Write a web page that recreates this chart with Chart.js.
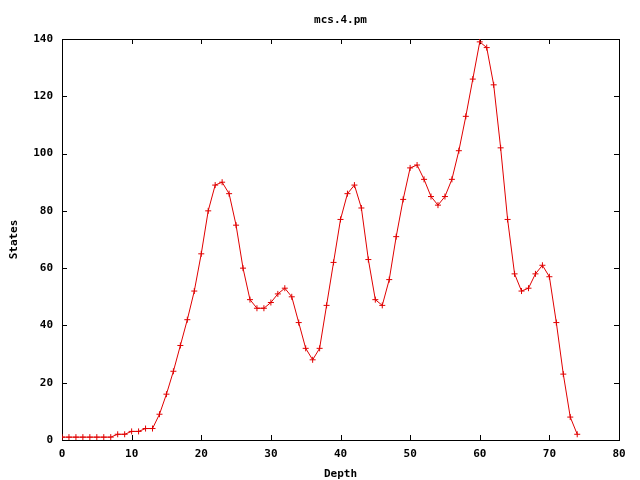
<!DOCTYPE html>
<html>
<head>
<meta charset="utf-8">
<script src="https://cdn.jsdelivr.net/npm/chart.js@4.4.1/dist/chart.umd.min.js"></script>
<style>
  html, body { margin: 0; padding: 0; background: #fff; }
  #wrap { width: 640px; height: 480px; }
</style>
</head>
<body>
<div id="wrap"><canvas id="plot" width="640" height="480"></canvas></div>
<script>
// mcs.4.pm - states per depth
var plotTitle = 'mcs.4.pm';
var depths = [
   0,  1,  2,  3,  4,  5,  6,  7,  8,  9,
  10, 11, 12, 13, 14, 15, 16, 17, 18, 19,
  20, 21, 22, 23, 24, 25, 26, 27, 28, 29,
  30, 31, 32, 33, 34, 35, 36, 37, 38, 39,
  40, 41, 42, 43, 44, 45, 46, 47, 48, 49,
  50, 51, 52, 53, 54, 55, 56, 57, 58, 59,
  60, 61, 62, 63, 64, 65, 66, 67, 68, 69,
  70, 71, 72, 73, 74
];
var states = [
   1,   1,   1,   1,   1,   1,   1,   1,   2,   2,
   3,   3,   4,   4,   9,  16,  24,  33,  42,  52,
  65,  80,  89,  90,  86,  75,  60,  49,  46,  46,
  48,  51,  53,  50,  41,  32,  28,  32,  47,  62,
  77,  86,  89,  81,  63,  49,  47,  56,  71,  84,
  95,  96,  91,  85,  82,  85,  91, 101, 113, 126,
 139, 137, 124, 102,  77,  58,  52,  53,  58,  61,
  57,  41,  23,   8,   2
];
var xTicks = [0, 10, 20, 30, 40, 50, 60, 70, 80];
var yTicks = [0, 20, 40, 60, 80, 100, 120, 140];

var monoFont = { family: '"DejaVu Sans Mono", monospace', size: 11, weight: 'bold' };
var labelFont = { family: '"DejaVu Sans Mono", monospace', size: 11, weight: 'bold', lineHeight: 1 };

// gnuplot style frame with inward ticks on all four sides, title centred on the plot
var framePlugin = {
  id: 'frame',
  beforeDatasetsDraw: function (chart) {
    var ctx = chart.ctx;
    var a = chart.chartArea;
    var xs = chart.scales.x, ys = chart.scales.y;
    var len = 5;
    ctx.save();
    ctx.strokeStyle = '#000';
    ctx.lineWidth = 1;
    ctx.beginPath();
    xTicks.forEach(function (v) {
      var px = Math.round(xs.getPixelForValue(v)) + 0.5;
      ctx.moveTo(px, a.bottom); ctx.lineTo(px, a.bottom - len);
      ctx.moveTo(px, a.top); ctx.lineTo(px, a.top + len);
    });
    yTicks.forEach(function (v) {
      var py = Math.round(ys.getPixelForValue(v)) + 0.5;
      ctx.moveTo(a.left, py); ctx.lineTo(a.left + len, py);
      ctx.moveTo(a.right, py); ctx.lineTo(a.right - len, py);
    });
    ctx.stroke();
    ctx.strokeRect(Math.round(a.left) + 0.5, Math.round(a.top) + 0.5,
                   Math.round(a.right - a.left), Math.round(a.bottom - a.top));

    ctx.fillStyle = '#000';
    ctx.font = 'bold 11px "DejaVu Sans Mono", monospace';
    ctx.textAlign = 'center';
    ctx.textBaseline = 'middle';
    ctx.fillText(plotTitle, (a.left + a.right) / 2, 20);
    ctx.restore();
  }
};

var ctx = document.getElementById('plot').getContext('2d');
var chart = new Chart(ctx, {
  type: 'line',
  data: {
    datasets: [{
      label: plotTitle,
      data: depths.map(function (d, i) { return { x: d, y: states[i] }; }),
      borderColor: '#e00000',
      backgroundColor: '#e00000',
      borderWidth: 1,
      pointStyle: 'cross',
      pointRadius: 3,
      pointBorderWidth: 1,
      pointHoverRadius: 3,
      tension: 0,
      fill: false
    }]
  },
  options: {
    responsive: false,
    animation: false,
    layout: { padding: { left: 0, right: 21, top: 39, bottom: 0 } },
    plugins: {
      legend: { display: false },
      tooltip: { enabled: false },
      title: { display: false }
    },
    scales: {
      x: {
        type: 'linear',
        min: 0,
        max: 80,
        afterFit: function (s) { s.height = 40; },
        afterBuildTicks: function (s) { s.ticks = xTicks.map(function (v) { return { value: v }; }); },
        grid: { display: false, drawTicks: false },
        border: { display: false },
        ticks: { color: '#000', font: monoFont, padding: 8, maxRotation: 0, autoSkip: false },
        title: { display: true, text: 'Depth', color: '#000', font: labelFont, padding: { top: 0, bottom: 0 } }
      },
      y: {
        type: 'linear',
        min: 0,
        max: 140,
        afterFit: function (s) { s.width = 62; },
        afterBuildTicks: function (s) { s.ticks = yTicks.map(function (v) { return { value: v }; }); },
        grid: { display: false, drawTicks: false },
        border: { display: false },
        ticks: { color: '#000', font: monoFont, padding: 9 },
        title: { display: true, text: 'States', color: '#000', font: monoFont, padding: { top: 7.5, bottom: 0 } }
      }
    }
  },
  plugins: [framePlugin]
});
</script>
</body>
</html>
